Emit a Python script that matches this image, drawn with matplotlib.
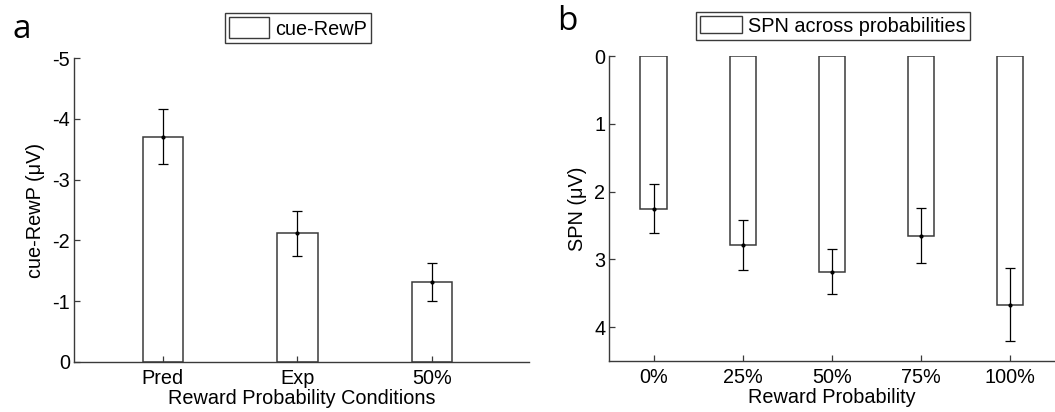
import matplotlib
matplotlib.use("Agg")
import matplotlib.pyplot as plt
from matplotlib.patches import Patch

# Panel a data
cats_a = ["Pred", "Exp", "50%"]
vals_a = [-3.71, -2.12, -1.31]
err_a = [0.45, 0.37, 0.31]

# Panel b data
cats_b = ["0%", "25%", "50%", "75%", "100%"]
vals_b = [2.25, 2.79, 3.18, 2.65, 3.67]
err_b = [0.36, 0.37, 0.33, 0.41, 0.54]

W, H = 1055, 412
fig = plt.figure(figsize=(W / 100, H / 100), dpi=100)
plt.rcParams['font.family'] = ['Liberation Sans', 'DejaVu Sans']

edge = '#3a3a3a'
fs = 14.3


def style(ax):
    for s in ['top', 'right']:
        ax.spines[s].set_visible(False)
    for s in ['left', 'bottom']:
        ax.spines[s].set_color(edge)
        ax.spines[s].set_linewidth(1.0)
    ax.tick_params(direction='in', length=4, width=0.9, color=edge, labelsize=fs)
    ax.tick_params(axis='x', pad=5)
    ax.tick_params(axis='y', pad=3)


# ---- Panel a ----
ax1 = fig.add_axes([74 / W, 1 - 361.7 / H, (529 - 74) / W, (361.7 - 58.3) / H])
xa = list(range(1, len(cats_a) + 1))
ax1.bar(xa, vals_a, width=0.3, facecolor='white', edgecolor=edge, linewidth=1.1)
ax1.errorbar(xa, vals_a, yerr=err_a, fmt='o', color='black', markersize=2,
             elinewidth=0.9, capsize=3.5, capthick=0.9)
ax1.set_xlim(0.34, 3.72)
ax1.set_ylim(-5, 0)
ax1.invert_yaxis()
ax1.set_yticks([-5, -4, -3, -2, -1, 0])
ax1.set_yticklabels(["-5", "-4", "-3", "-2", "-1", "0"])
ax1.set_xticks(xa)
ax1.set_xticklabels(cats_a)
style(ax1)
ax1.set_xlabel("Reward Probability Conditions", fontsize=fs, labelpad=1)
ax1.set_ylabel("cue-RewP (μV)", fontsize=fs, labelpad=5)

# ---- Panel b ----
ax2 = fig.add_axes([609.3 / W, 1 - 361 / H, (1054.5 - 609.3) / W, (361 - 56) / H])
xb = list(range(1, len(cats_b) + 1))
ax2.bar(xb, vals_b, width=0.3, facecolor='white', edgecolor=edge, linewidth=1.1)
ax2.errorbar(xb, vals_b, yerr=err_b, fmt='o', color='black', markersize=2,
             elinewidth=0.9, capsize=3.5, capthick=0.9)
ax2.set_xlim(0.5, 5.5)
ax2.set_ylim(0, 4.5)
ax2.invert_yaxis()
ax2.set_yticks([0, 1, 2, 3, 4])
ax2.set_xticks(xb)
ax2.set_xticklabels(cats_b)
style(ax2)
ax2.set_xlabel("Reward Probability", fontsize=fs, labelpad=1)
ax2.set_ylabel("SPN (μV)", fontsize=fs, labelpad=5)

# ---- Legends ----
h1 = Patch(facecolor='white', edgecolor=edge, linewidth=1.0)
leg1 = fig.legend([h1], ["cue-RewP"], loc='center', bbox_to_anchor=(298 / W, 1 - 28 / H),
                  fontsize=fs, fancybox=False, edgecolor=edge, framealpha=1,
                  handlelength=2.05, handleheight=1.25, handletextpad=0.3, borderpad=0.2)
leg1.get_frame().set_linewidth(1.0)
h2 = Patch(facecolor='white', edgecolor=edge, linewidth=1.0)
leg2 = fig.legend([h2], ["SPN across probabilities"], loc='center',
                  bbox_to_anchor=(833 / W, 1 - 26 / H),
                  fontsize=fs, fancybox=False, edgecolor=edge, framealpha=1,
                  handlelength=2.1, handleheight=0.9, handletextpad=0.3, borderpad=0.2)
leg2.get_frame().set_linewidth(1.0)

# ---- Panel letters ----
fig.text(12 / W, 1 - 29 / H, "a", fontsize=24, family='Open Sans', va='center', ha='left')
fig.text(557 / W, 1 - 22 / H, "b", fontsize=24, family='Open Sans', va='center', ha='left')

fig.savefig("out.png", dpi=100)
